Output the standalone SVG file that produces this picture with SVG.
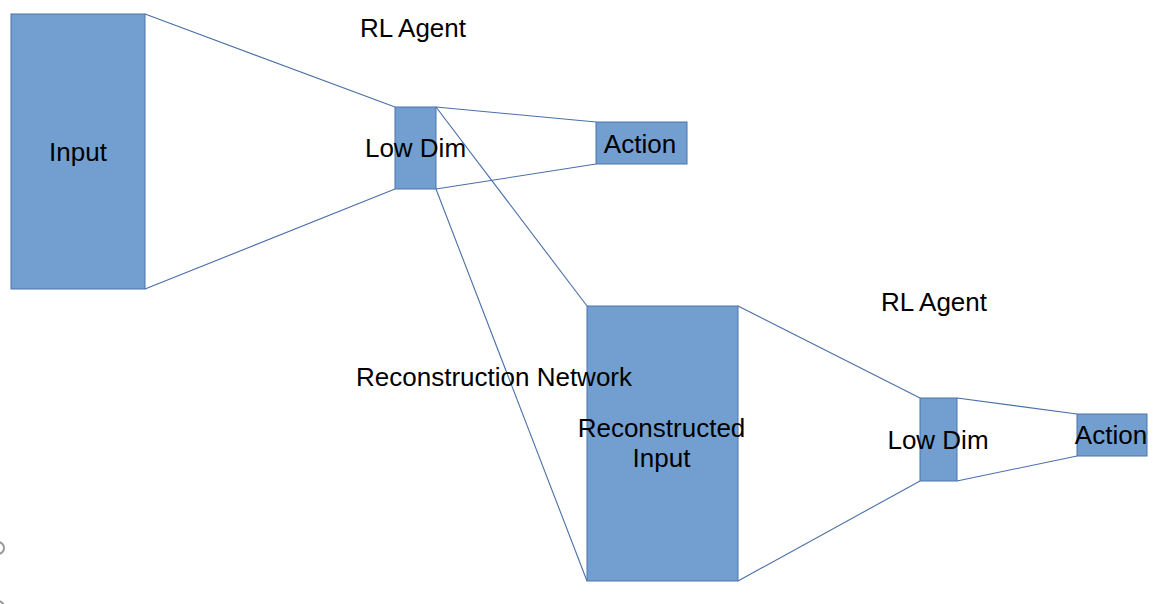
<svg xmlns="http://www.w3.org/2000/svg" width="1155" height="604" viewBox="0 0 1155 604">
<style>
.box{fill:#729fcf;stroke:#4a74ad;stroke-width:1}
.lbl{font-family:"Liberation Sans",Arial,sans-serif;font-size:26px;fill:#000}
.mid{text-anchor:middle}
#connectors line{stroke:#4a6fa8;stroke-width:1.1}
</style>
<rect width="1155" height="604" fill="#fff"/>
<g id="connectors">
<line x1="145" y1="14" x2="395" y2="107"/>
<line x1="145" y1="289" x2="395" y2="189"/>
<line x1="436" y1="107" x2="596" y2="122"/>
<line x1="436" y1="189" x2="596" y2="164"/>
<line x1="436" y1="107" x2="587" y2="306"/>
<line x1="436" y1="189" x2="587" y2="581"/>
<line x1="738" y1="306" x2="920" y2="398"/>
<line x1="738" y1="581" x2="920" y2="481"/>
<line x1="957" y1="398" x2="1077" y2="414"/>
<line x1="957" y1="481" x2="1077" y2="456"/>
</g>
<g id="input"><rect class="box" x="11" y="14" width="134" height="275"/><text class="lbl mid" x="78" y="161">Input</text></g>
<g id="lowdim1"><rect class="box" x="395" y="107" width="41" height="82"/><text class="lbl mid" x="415.5" y="157">Low Dim</text></g>
<g id="action1"><rect class="box" x="596" y="122" width="91" height="42"/><text class="lbl mid" x="640" y="153">Action</text></g>
<g id="recon"><rect class="box" x="587" y="306" width="151" height="275"/><text class="lbl mid" x="661.5" y="437">Reconstructed</text><text class="lbl mid" x="661.5" y="467">Input</text></g>
<g id="lowdim2"><rect class="box" x="920" y="398" width="37" height="83"/><text class="lbl mid" x="938" y="449">Low Dim</text></g>
<g id="action2"><rect class="box" x="1077" y="414" width="70" height="42"/><text class="lbl mid" x="1111" y="444">Action</text></g>
<g id="labels">
<text class="lbl" x="360" y="37">RL Agent</text>
<text class="lbl" x="881" y="311">RL Agent</text>
<text class="lbl" x="356" y="386">Reconstruction Network</text>
</g>
<g id="edge-marks" fill="none" stroke="#999" stroke-width="2">
<circle cx="-2" cy="548" r="6"/>
<circle cx="-2" cy="607" r="6"/>
</g>
</svg>
